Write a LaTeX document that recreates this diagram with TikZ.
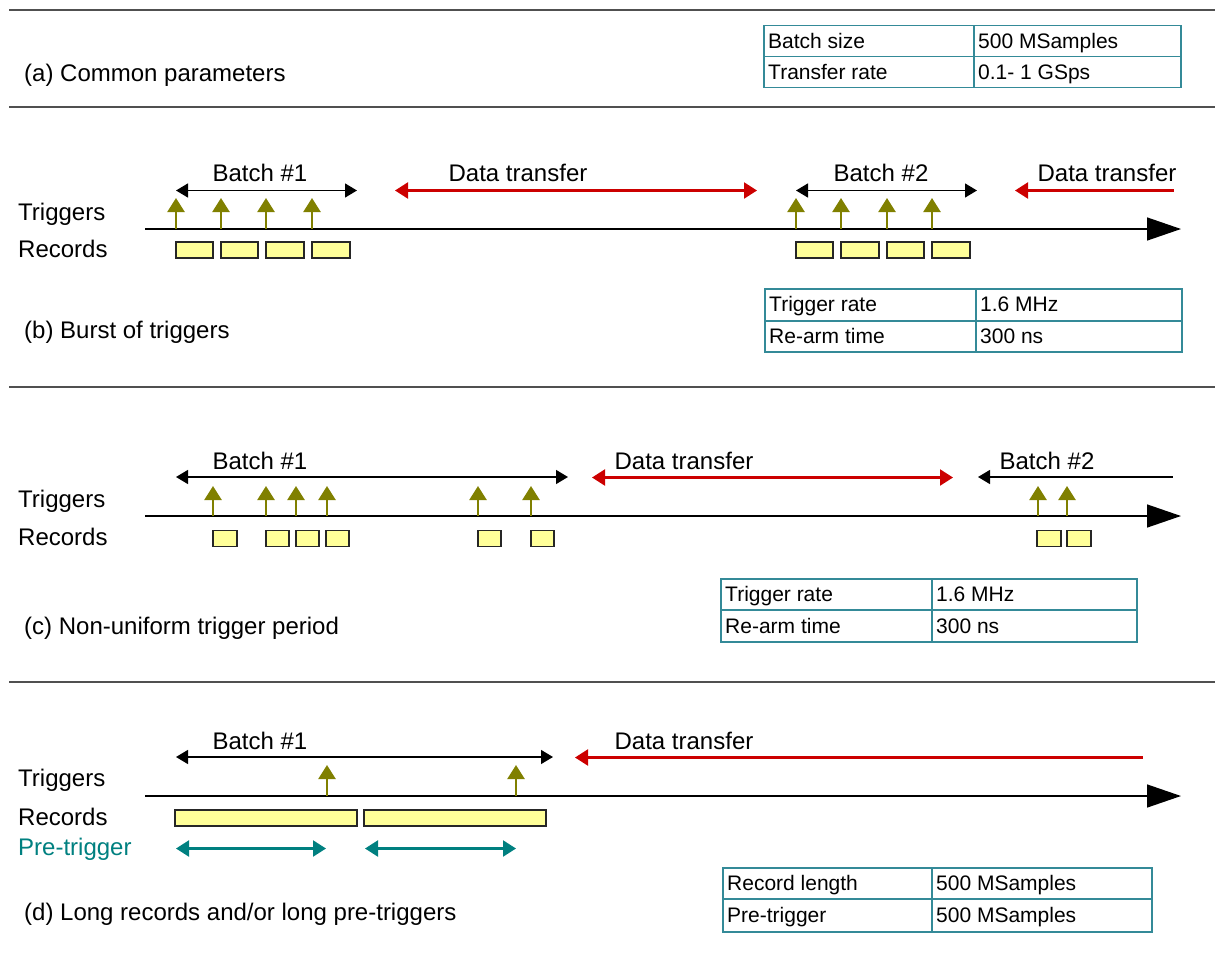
\documentclass[tikz,border=0pt]{standalone}
\usepackage{fontspec}
\setmainfont{Liberation Sans}
\usetikzlibrary{arrows.meta}

\definecolor{trig}{RGB}{128,128,0}
\definecolor{xfer}{RGB}{204,0,0}
\definecolor{pre}{RGB}{0,128,128}
\definecolor{tbl}{RGB}{52,138,152}
\definecolor{rec}{RGB}{255,255,153}
\definecolor{sep}{RGB}{80,80,80}

\tikzset{
  lbl/.style={anchor=base west, inner sep=0pt, font=\fontsize{24}{28}\selectfont},
  prelbl/.style={lbl, text=pre},
  ctr/.style={anchor=base, inner sep=0pt, font=\fontsize{24}{28}\selectfont},
  cell/.style={anchor=base west, inner sep=0pt, font=\fontsize{21}{25}\selectfont},
  sepline/.style={draw=sep, line width=1.4pt},
  tblbox/.style={draw=tbl, line width=1.4pt},
  timeaxis/.style={line width=1.4pt, -{Triangle[length=34pt,width=23pt]}},
  batchspan/.style={line width=1.3pt, {Triangle[length=12pt,width=14pt]}-{Triangle[length=12pt,width=14pt]}},
  batchleft/.style={line width=1.3pt, {Triangle[length=12pt,width=14pt]}-},
  xferspan/.style={draw=xfer, line width=2.2pt, {Triangle[length=13pt,width=16pt]}-{Triangle[length=13pt,width=16pt]}},
  xferleft/.style={draw=xfer, line width=2.2pt, {Triangle[length=13pt,width=16pt]}-},
  prespan/.style={draw=pre, line width=2.2pt, {Triangle[length=13pt,width=16pt]}-{Triangle[length=13pt,width=16pt]}},
  trigarrow/.style={draw=trig, fill=trig, line width=2.4pt, -{Triangle[length=14pt,width=17pt]}},
  recbox/.style={draw=black!85, fill=rec, line width=1.2pt, inner sep=0pt},
}

\begin{document}
\begin{tikzpicture}[x=1pt, y=-1pt]
\useasboundingbox (0,0) rectangle (1215,956);

% ---------- section separators ----------
\foreach \i/\yy in {1/10, 2/107, 3/387, 4/682} {
  \coordinate (sepL\i) at (9,\yy);
  \coordinate (sepR\i) at (1215,\yy);
  \draw[sepline] (sepL\i) -- (sepR\i);
}

% ---------- (a) common parameters ----------
\node[lbl] (capA) at (24,81) {(a) Common parameters};
\draw[tblbox] (764,25.7) rectangle (1181,87.7);
\draw[tblbox] (764,56.7) -- (1181,56.7);
\draw[tblbox] (974,25.7) -- (974,87.7);
\node[cell] (a11) at (768,48) {Batch size};
\node[cell] (a12) at (978,48) {500 MSamples};
\node[cell] (a21) at (768,79) {Transfer rate};
\node[cell] (a22) at (978,79) {0.1- 1 GSps};

% ---------- (b) burst of triggers ----------
\node[lbl] (trgB) at (18,220.5) {Triggers};
\node[lbl] (recB) at (18,257.5) {Records};
\coordinate (axB0) at (145,229);
\coordinate (axB1) at (1181,229);
\draw[timeaxis] (axB0) -- (axB1);

\node[ctr] (bB1) at (260,181.7) {Batch \#1};
\coordinate (bB1l) at (176,190.5); \coordinate (bB1r) at (357,190.5);
\draw[batchspan] (bB1l) -- (bB1r);
\node[ctr] (dB1) at (518,181.7) {Data transfer};
\coordinate (dB1l) at (395,190.5); \coordinate (dB1r) at (757,190.5);
\draw[xferspan] (dB1l) -- (dB1r);
\node[ctr] (bB2) at (881,181.7) {Batch \#2};
\coordinate (bB2l) at (796,190.5); \coordinate (bB2r) at (977,190.5);
\draw[batchspan] (bB2l) -- (bB2r);
\node[ctr] (dB2) at (1107,181.7) {Data transfer};
\coordinate (dB2l) at (1015,190.5); \coordinate (dB2r) at (1174,190.5);
\draw[xferleft] (dB2l) -- (dB2r);

\foreach \k/\xx in {1/176, 2/221, 3/266, 4/312, 5/796, 6/841, 7/887, 8/932} {
  \coordinate (tB\k a) at (\xx,229);
  \coordinate (tB\k b) at (\xx,198);
  \draw[trigarrow] (tB\k a) -- (tB\k b);
}
\foreach \k/\xa/\xb in {1/176/213, 2/221/258, 3/266/304, 4/312/350,
                        5/796/833, 6/841/879, 7/887/924, 8/932/970} {
  \node[recbox, minimum width={\xb-\xa}, minimum height=16pt] (rB\k) at ({(\xa+\xb)/2},250) {};
}

\node[lbl] (capB) at (24,338) {(b) Burst of triggers};
\draw[tblbox] (765,289) rectangle (1182,352);
\draw[tblbox] (765,321) -- (1182,321);
\draw[tblbox] (976,289) -- (976,352);
\node[cell] (b11) at (769,311.5) {Trigger rate};
\node[cell] (b12) at (980,311.5) {1.6 MHz};
\node[cell] (b21) at (769,343) {Re-arm time};
\node[cell] (b22) at (980,343) {300 ns};

% ---------- (c) non-uniform trigger period ----------
\node[lbl] (trgC) at (18,507.5) {Triggers};
\node[lbl] (recC) at (18,545.5) {Records};
\coordinate (axC0) at (145,516);
\coordinate (axC1) at (1181,516);
\draw[timeaxis] (axC0) -- (axC1);

\node[ctr] (bC1) at (260,469.5) {Batch \#1};
\coordinate (bC1l) at (176,477); \coordinate (bC1r) at (568,477);
\draw[batchspan] (bC1l) -- (bC1r);
\node[ctr] (dC1) at (684,469.5) {Data transfer};
\coordinate (dC1l) at (592,477.5); \coordinate (dC1r) at (953,477.5);
\draw[xferspan] (dC1l) -- (dC1r);
\node[ctr] (bC2) at (1047,469.5) {Batch \#2};
\coordinate (bC2l) at (978,477); \coordinate (bC2r) at (1173,477);
\draw[batchleft] (bC2l) -- (bC2r);

\foreach \k/\xx in {1/213, 2/266, 3/296, 4/327, 5/478, 6/531, 7/1038, 8/1067} {
  \coordinate (tC\k a) at (\xx,516);
  \coordinate (tC\k b) at (\xx,486);
  \draw[trigarrow] (tC\k a) -- (tC\k b);
}
\foreach \k/\xa/\xb in {1/213/237, 2/266/289, 3/296/319, 4/326/349,
                        5/478/501, 6/531/554, 7/1037/1061, 8/1067/1091} {
  \node[recbox, minimum width={\xb-\xa}, minimum height=15.5pt] (rC\k) at ({(\xa+\xb)/2},538.5) {};
}

\node[lbl] (capC) at (24,634) {(c) Non-uniform trigger period};
\draw[tblbox] (721,579) rectangle (1137,642);
\draw[tblbox] (721,610) -- (1137,610);
\draw[tblbox] (932,579) -- (932,642);
\node[cell] (c11) at (725,601.5) {Trigger rate};
\node[cell] (c12) at (936,601.5) {1.6 MHz};
\node[cell] (c21) at (725,633) {Re-arm time};
\node[cell] (c22) at (936,633) {300 ns};

% ---------- (d) long records / long pre-triggers ----------
\node[lbl] (trgD) at (18,786.5) {Triggers};
\node[lbl] (recD) at (18,825) {Records};
\node[prelbl] (preD) at (18,855) {Pre-trigger};
\coordinate (axD0) at (145,796);
\coordinate (axD1) at (1181,796);
\draw[timeaxis] (axD0) -- (axD1);

\node[ctr] (bD1) at (260,749.5) {Batch \#1};
\coordinate (bD1l) at (176,757); \coordinate (bD1r) at (553,757);
\draw[batchspan] (bD1l) -- (bD1r);
\node[ctr] (dD1) at (684,749.5) {Data transfer};
\coordinate (dD1l) at (575,757.5); \coordinate (dD1r) at (1143,757.5);
\draw[xferleft] (dD1l) -- (dD1r);

\foreach \k/\xx in {1/327, 2/516} {
  \coordinate (tD\k a) at (\xx,796);
  \coordinate (tD\k b) at (\xx,765);
  \draw[trigarrow] (tD\k a) -- (tD\k b);
}
\foreach \k/\xa/\xb in {1/175/357, 2/364/546} {
  \node[recbox, minimum width={\xb-\xa}, minimum height=16pt] (rD\k) at ({(\xa+\xb)/2},818) {};
}
\foreach \k/\xa/\xb in {1/176/326, 2/365/516} {
  \coordinate (pD\k l) at (\xa,848.5);
  \coordinate (pD\k r) at (\xb,848.5);
  \draw[prespan] (pD\k l) -- (pD\k r);
}

\node[lbl] (capD) at (24,920) {(d) Long records and/or long pre-triggers};
\draw[tblbox] (723,868) rectangle (1152,932);
\draw[tblbox] (723,899) -- (1152,899);
\draw[tblbox] (932,868) -- (932,932);
\node[cell] (d11) at (727,890.5) {Record length};
\node[cell] (d12) at (936,890.5) {500 MSamples};
\node[cell] (d21) at (727,922) {Pre-trigger};
\node[cell] (d22) at (936,922) {500 MSamples};
\end{tikzpicture}
\end{document}
